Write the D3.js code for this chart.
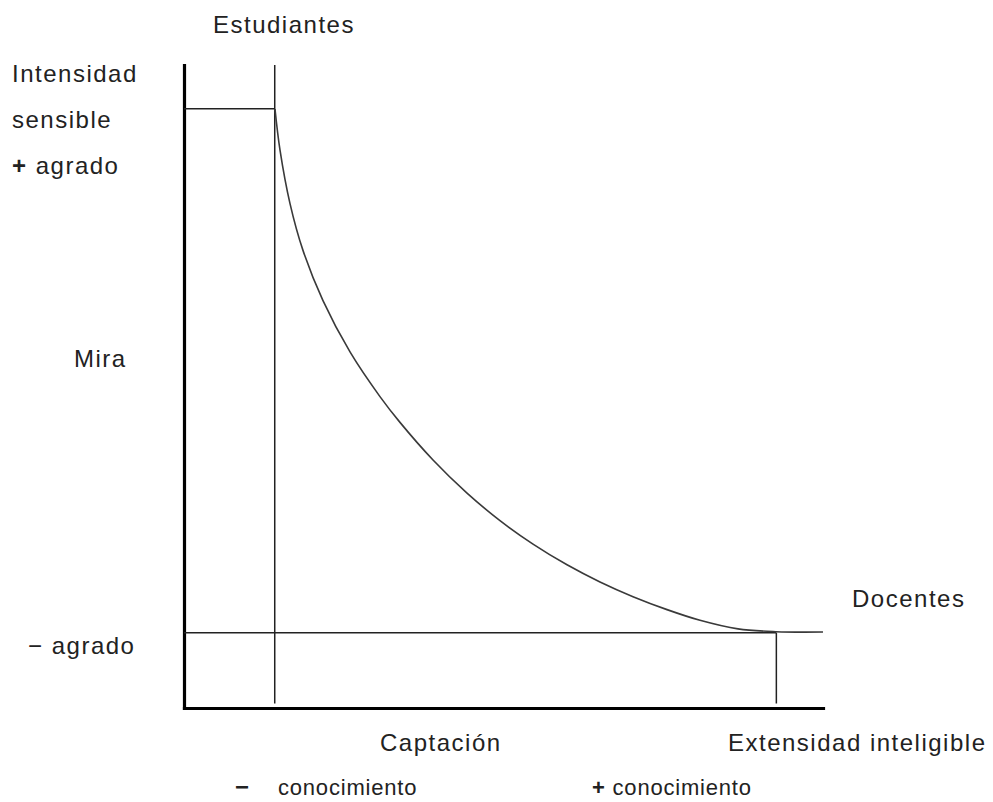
<!DOCTYPE html>
<html>
<head>
<meta charset="utf-8">
<script src="https://cdn.jsdelivr.net/npm/d3@7"></script>
<style>
    body { margin: 0; background: #fff; }
    text { font-family: "Liberation Sans", Arial, sans-serif; font-size: 24px; letter-spacing: 1.5px; fill: #222; }
    text.small { font-size: 22px; letter-spacing: 0.8px; }
</style>
</head>
<body>
<svg id="chart" width="993" height="802"></svg>
<script>

// curve: extensidad (x) vs intensidad (y), both on a 0..100 scale
var curveX = [14.24, 15.02, 16.59, 18.62, 21.75, 25.98, 30.67, 33.80, 38.97, 44.29, 49.45, 54.62, 59.94, 65.10, 70.27, 75.59, 80.75, 86.70, 92.64, 100];
var curveY = [93.16, 86.80, 78.45, 71.17, 63.36, 55.38, 48.43, 44.42, 38.57, 33.42, 29.14, 25.49, 22.27, 19.60, 17.31, 15.30, 13.64, 12.30, 11.87, 11.82];

// reference points on the curve
var markNames = ['Estudiantes', 'Docentes'];
var markX = [14.2, 92.7];
var markY = [93.2, 11.7];
var markTop = [100, 11.7];   // how far up the vertical guide goes

var svg = d3.select('#chart');

var x = d3.scaleLinear().domain([0, 100]).range([184, 823]);
var y = d3.scaleLinear().domain([0, 100]).range([708, 65]);

// axes: only the thick domain lines, no ticks
svg.append('g')
    .attr('class', 'axis')
    .attr('transform', 'translate(' + x(0) + ',0)')
    .call(d3.axisLeft(y).tickValues([]).tickSizeOuter(0));

svg.append('g')
    .attr('class', 'axis')
    .attr('transform', 'translate(0,' + y(0) + ')')
    .call(d3.axisBottom(x).tickValues([]).tickSizeOuter(0));

svg.selectAll('.axis path')
    .attr('stroke', '#000')
    .attr('stroke-width', 3.2)
    .attr('stroke-linecap', 'square');

// guides
var guides = svg.append('g').attr('class', 'guides');

guides.selectAll('.vguide')
    .data(markNames)
    .enter()
    .append('line')
    .attr('class', 'vguide')
    .attr('x1', function(d, i) { return x(markX[i]); })
    .attr('x2', function(d, i) { return x(markX[i]); })
    .attr('y1', function(d, i) { return y(markTop[i]); })
    .attr('y2', y(0.7))
    .attr('stroke', '#222')
    .attr('stroke-width', 1.5);

guides.selectAll('.hguide')
    .data(markNames)
    .enter()
    .append('line')
    .attr('class', 'hguide')
    .attr('x1', x(0))
    .attr('x2', function(d, i) { return x(markX[i]); })
    .attr('y1', function(d, i) { return y(markY[i]); })
    .attr('y2', function(d, i) { return y(markY[i]); })
    .attr('stroke', '#222')
    .attr('stroke-width', 1.5);

// the curve
var line = d3.line()
    .x(function(d) { return x(d[0]); })
    .y(function(d) { return y(d[1]); })
    .curve(d3.curveCatmullRom.alpha(0.5));

svg.append('path')
    .datum(d3.zip(curveX, curveY))
    .attr('d', line)
    .attr('fill', 'none')
    .attr('stroke', '#3a3a3a')
    .attr('stroke-width', 1.6);

// labels
var labels = [
    {t: 'Estudiantes', x: 213, y: 33},
    {t: 'Intensidad', x: 12, y: 82},
    {t: 'sensible', x: 12, y: 128},
    {t: 'agrado', pre: '+', bold: true, x: 12, y: 174},
    {t: 'Mira', x: 74, y: 367},
    {t: 'agrado', pre: '\u2212', bold: false, x: 28, y: 654},
    {t: 'Docentes', x: 852, y: 607},
    {t: 'Captación', x: 380, y: 751},
    {t: 'Extensidad inteligible', x: 728, y: 751},
    {t: 'conocimiento', pre: '+', bold: true, x: 592, y: 795, cls: 'small'}
];

var txt = svg.selectAll('.label')
    .data(labels)
    .enter()
    .append('text')
    .attr('class', function(d) { return 'label ' + (d.cls || ''); })
    .attr('x', function(d) { return d.x; })
    .attr('y', function(d) { return d.y; });

txt.each(function(d) {
    var el = d3.select(this);
    if (d.pre) {
        el.append('tspan')
            .attr('font-weight', d.bold ? 'bold' : 'normal')
            .text(d.pre + ' ');
    }
    el.append('tspan').text(d.t);
});

// "−   conocimiento" with the wide gap
svg.append('text')
    .attr('x', 235)
    .attr('y', 795)
    .attr('font-weight', 'bold')
    .text('\u2212');
svg.append('text')
    .attr('class', 'small')
    .attr('x', 278)
    .attr('y', 795)
    .text('conocimiento');

</script>
</body>
</html>
